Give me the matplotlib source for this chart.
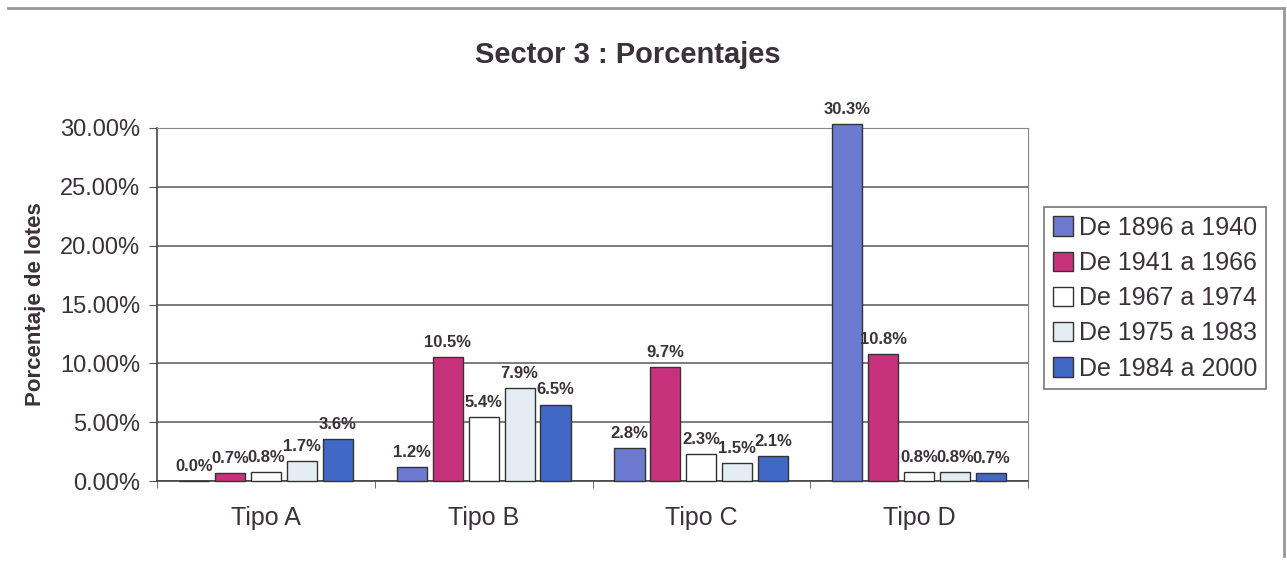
import matplotlib
matplotlib.use("Agg")
import matplotlib.pyplot as plt
from matplotlib.lines import Line2D
import numpy as np

plt.rcParams['font.family'] = ['Liberation Sans', 'DejaVu Sans']

categories = ["Tipo A", "Tipo B", "Tipo C", "Tipo D"]
series_names = ["De 1896 a 1940", "De 1941 a 1966", "De 1967 a 1974",
                "De 1975 a 1983", "De 1984 a 2000"]
v1896 = [0.0, 1.2, 2.8, 30.3]
v1941 = [0.7, 10.5, 9.7, 10.8]
v1967 = [0.8, 5.4, 2.3, 0.8]
v1975 = [1.7, 7.9, 1.5, 0.8]
v1984 = [3.6, 6.5, 2.1, 0.7]
series = [v1896, v1941, v1967, v1975, v1984]
yticks = [0, 5, 10, 15, 20, 25, 30]

colors = ["#6c7bd0", "#c8327c", "#ffffff", "#e4eef2", "#4068c4"]
txt = "#3b3138"

fig = plt.figure(figsize=(12.87, 5.61), dpi=100)
ax = fig.add_axes([157/1287, 1-481/561, (1028-157)/1287, (481-128)/561])

x = np.arange(len(categories))
step = 0.165
w = 0.138
for i, (vals, c) in enumerate(zip(series, colors)):
    pos = x + (i - 2) * step
    ax.bar(pos, vals, width=w, color=c, edgecolor="#333333", linewidth=1.0,
           clip_on=False, zorder=3)
    for p, v in zip(pos, vals):
        ax.text(p, v + 0.6, f"{v:.1f}%", ha="center", va="bottom",
                fontsize=12, fontweight="bold", color=txt, zorder=4)

ax.set_xlim(-0.5, 3.5)
ax.set_ylim(0, 30)
ax.set_yticks(yticks)
ax.set_yticklabels([f"{t:.2f}%" for t in yticks], fontsize=17, color=txt)
ax.set_xticks(x)
ax.set_xticklabels(categories, fontsize=18, color=txt)
ax.set_xticks([-0.5, 0.5, 1.5, 2.5, 3.5], minor=True)
ax.tick_params(axis="x", which="major", length=0, pad=18)
ax.tick_params(axis="x", which="minor", length=5, color="#555555")
ax.tick_params(axis="y", length=6, color="#555555", pad=6)
ax.yaxis.grid(True, color="#666666", linewidth=1.2, zorder=0)
ax.set_axisbelow(True)
for s in ["top", "right"]:
    ax.spines[s].set_color("#888888")
for s in ["left", "bottom"]:
    ax.spines[s].set_color("#444444")
    ax.spines[s].set_linewidth(1.2)

ax.set_ylabel("Porcentaje de lotes", fontsize=16, fontweight="bold",
              color=txt, labelpad=10)

fig.text(628/1287, 1-55/561, "Sector 3 : Porcentajes", ha="center",
         va="center", fontsize=21, fontweight="bold", color=txt)

handles = [plt.Rectangle((0, 0), 1, 1, facecolor=c, edgecolor="#333333",
                         linewidth=1.0) for c in colors]
leg = fig.legend(handles, series_names, loc="upper left",
                 bbox_to_anchor=(1044/1287, 1-207/561), fontsize=18,
                 frameon=True, fancybox=False, edgecolor="#555555",
                 handlelength=0.8, handleheight=0.8, handletextpad=0.25,
                 labelspacing=0.45, borderpad=0.35, labelcolor=txt,
                 borderaxespad=0)
leg.get_frame().set_linewidth(1.2)

fig.add_artist(Line2D([8/1287, 1284/1287], [1-8/561, 1-8/561],
                      color="#999999", linewidth=2))
fig.add_artist(Line2D([1284/1287, 1284/1287], [1-8/561, 1-556/561],
                      color="#999999", linewidth=2))

fig.savefig("out.png", dpi=100, facecolor="white")
